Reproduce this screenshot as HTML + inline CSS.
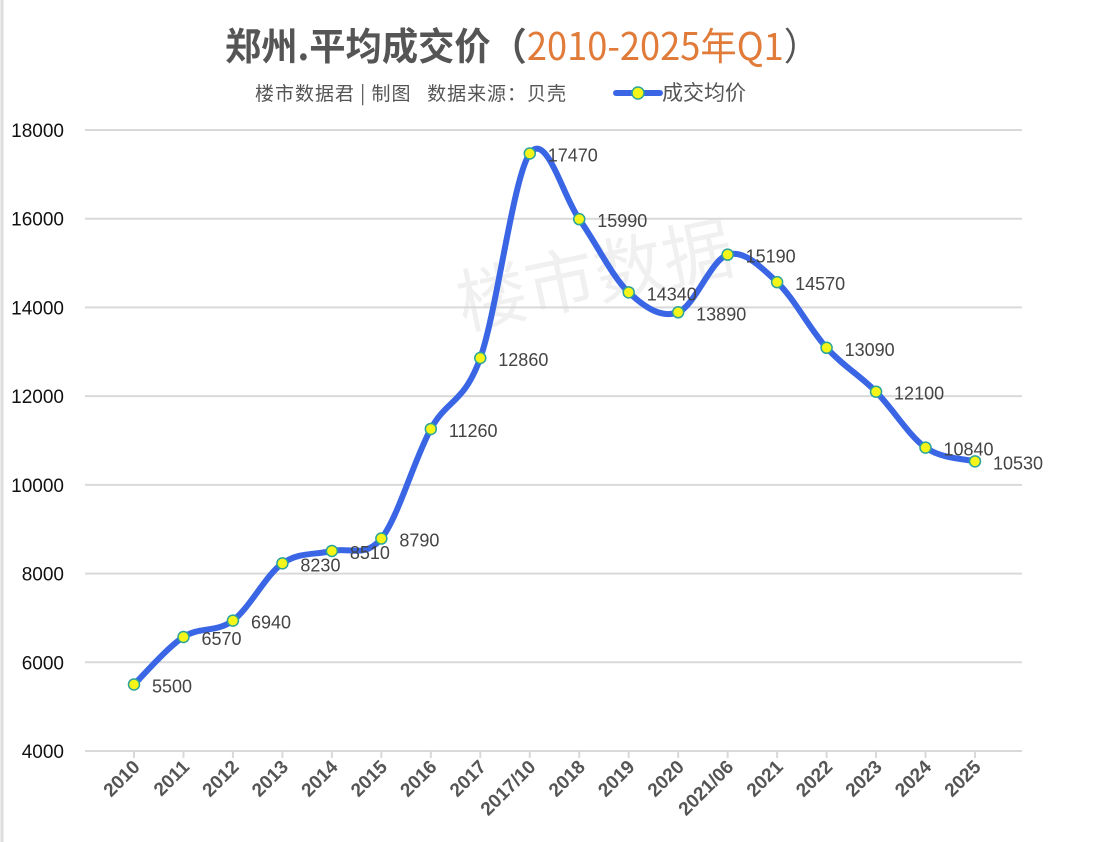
<!DOCTYPE html><html><head><meta charset="utf-8"><style>
body{margin:0;background:#fff;}
svg{display:block;font-family:"Liberation Sans","Noto Sans CJK SC",sans-serif;}
</style></head><body>
<svg id="s" width="1098" height="842" viewBox="0 0 1098 842">
<rect x="0" y="0" width="1098" height="842" fill="#fff"/>
<line x1="2" y1="0" x2="2" y2="842" stroke="#ddd" stroke-width="3"/>
<text x="225" y="60" font-size="38" font-weight="bold" fill="#555" font-family="Noto Sans CJK SC,sans-serif" textLength="595" lengthAdjust="spacingAndGlyphs">郑州.平均成交价（<tspan fill="#e07b39" font-weight="normal">2010-2025年Q1</tspan><tspan font-weight="normal">）</tspan></text>
<text x="255" y="100" font-size="19" fill="#555" font-family="Noto Sans CJK SC,sans-serif" textLength="311" lengthAdjust="spacing" xml:space="preserve">楼市数据君 | 制图   数据来源：贝壳</text>
<line x1="616" y1="93" x2="660" y2="93" stroke="#3a66e6" stroke-width="6" stroke-linecap="round"/>
<circle cx="638" cy="93" r="6" fill="#f5f51a" stroke="#2aa39a" stroke-width="1.5"/>
<text x="662" y="100" font-size="21" fill="#555" font-family="Noto Sans CJK SC,sans-serif">成交均价</text>
<text x="600" y="300" font-size="70" fill="#000" fill-opacity="0.06" text-anchor="middle" transform="rotate(-12 600 300)" font-family="Noto Sans CJK SC,sans-serif">楼市数据</text>
<g id="g"></g>
</svg>
<script>
var g=document.getElementById('g'),h='';
var v=[5500,6570,6940,8230,8510,8790,11260,12860,17470,15990,14340,13890,15190,14570,13090,12100,10840,10530];
var lab=['2010','2011','2012','2013','2014','2015','2016','2017','2017/10','2018','2019','2020','2021/06','2021','2022','2023','2024','2025'];
for(var i=0;i<8;i++){var y=751-i*88.714;h+='<line x1="85" x2="1022" y1="'+y+'" y2="'+y+'" stroke="#d9d9d9" stroke-width="2"/>';
h+='<text x="64" y="'+(y+7)+'" font-size="19" text-anchor="end" fill="#111">'+(4000+i*2000)+'</text>';}
var P=v.map(function(d,i){return [134+i*49.47,751-(d-4000)*621/14000];});
P.forEach(function(p,i){h+='<line x1="'+p[0]+'" x2="'+p[0]+'" y1="751" y2="758" stroke="#d9d9d9" stroke-width="2"/>';
h+='<text font-size="19" font-weight="bold" fill="#555" text-anchor="end" transform="translate('+(p[0]+7)+',768) rotate(-45)">'+lab[i]+'</text>';});
var d='M'+P[0][0]+','+P[0][1];
for(var i=0;i<P.length-1;i++){var p0=P[i-1]||P[i],p1=P[i],p2=P[i+1],p3=P[i+2]||P[i+1],t=6;
d+=' C'+(p1[0]+(p2[0]-p0[0])/t)+','+(p1[1]+(p2[1]-p0[1])/t)+' '+(p2[0]-(p3[0]-p1[0])/t)+','+(p2[1]-(p3[1]-p1[1])/t)+' '+p2[0]+','+p2[1];}
h+='<path d="'+d+'" fill="none" stroke="#3a66e6" stroke-width="6" stroke-linecap="round"/>';
P.forEach(function(p,i){h+='<circle cx="'+p[0]+'" cy="'+p[1]+'" r="5.5" fill="#f5f51a" stroke="#2aa39a" stroke-width="1.5"/>';
h+='<text x="'+(p[0]+18)+'" y="'+(p[1]+8)+'" font-size="18" fill="#444">'+v[i]+'</text>';});
g.innerHTML=h;
</script>
</body></html>
